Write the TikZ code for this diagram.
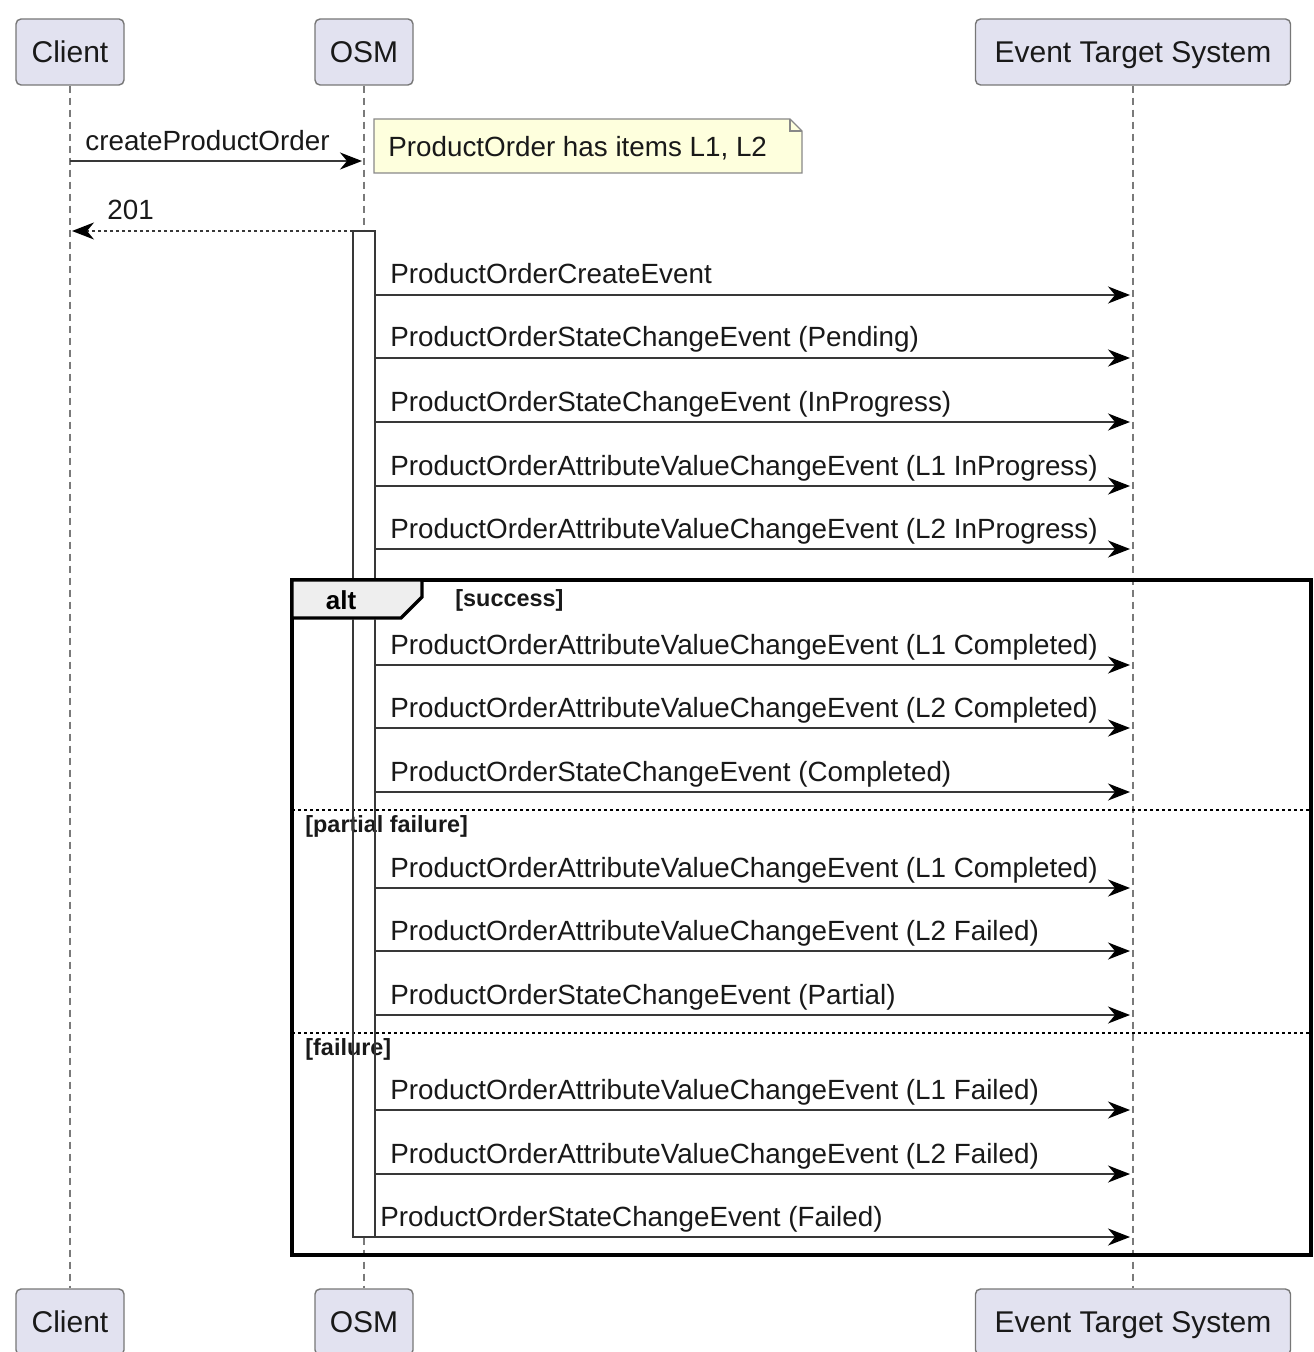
\documentclass[tikz,border=0pt]{standalone}
\usepackage{fontspec}
\setmainfont{Liberation Sans}
\usetikzlibrary{arrows.meta,calc}
\definecolor{partfill}{HTML}{E2E2F0}
\definecolor{partdraw}{HTML}{777777}
\definecolor{notefill}{HTML}{FEFFDD}
\definecolor{notedraw}{HTML}{888888}
\definecolor{lifecol}{HTML}{7A7A7A}
\definecolor{msgcol}{HTML}{383838}
\definecolor{tabfill}{HTML}{EEEEEE}
\begin{document}
\begin{tikzpicture}[x=0.5pt,y=-0.5pt,
  part/.style={draw=partdraw, fill=partfill, line width=0.7pt, rounded corners=2.5pt,
    minimum height=33pt, inner sep=0pt, text height=13.7pt, text depth=3pt,
    font=\fontsize{15}{18}\selectfont, text=black!90},
  lifeline/.style={draw=lifecol, line width=0.6pt, dash pattern=on 3.5pt off 2.5pt},
  tip/.style={-{Stealth[length=11pt,width=8.5pt,inset=3.5pt,fill=black,color=black]}},
  msg/.style={draw=msgcol, line width=0.9pt, tip},
  ret/.style={draw=msgcol, line width=0.9pt, dash pattern=on 1.5pt off 1.5pt, tip},
  lbl/.style={anchor=base west, inner sep=0pt, font=\fontsize{13.9}{16}\selectfont, text=black!90},
  guard/.style={anchor=base west, inner sep=0pt, font=\bfseries\fontsize{11.7}{14}\selectfont, text=black!90},
  sep/.style={draw=black, line width=0.6pt, dash pattern=on 1.5pt off 1.5pt},
  actbar/.style={draw=msgcol, fill=white, line width=0.8pt, minimum width=11pt, inner sep=0pt}
]
\useasboundingbox (0,0) rectangle (1313,1352);

% participants
\node[part, minimum width=54pt] (ct) at (70,52) {Client};
\node[part, minimum width=49pt] (ot) at (364,52) {OSM};
\node[part, minimum width=157.5pt] (et) at (1133,52) {Event Target System};
\node[part, minimum width=54pt] (cb) at (70,1322) {Client};
\node[part, minimum width=49pt] (ob) at (364,1322) {OSM};
\node[part, minimum width=157.5pt] (eb) at (1133,1322) {Event Target System};

% lifelines
\draw[lifeline] (ct) -- (cb);
\draw[lifeline] (ot) -- (ob);
\draw[lifeline] (et) -- (eb);

% activation bar
\node[actbar, minimum height=503pt] (act) at (364,734) {};

% createProductOrder
\coordinate (c1) at (70,161);
\coordinate (o1) at (362,161);
\draw[msg] (c1) -- (o1);
\node[lbl] (lcpo) at (85,151) {createProductOrder};

% note
\draw[draw=notedraw, fill=notefill, line width=0.6pt]
  (374,119) -- (790,119) -- (802,131) -- (802,173) -- (374,173) -- cycle;
\draw[draw=notedraw, line width=0.6pt] (790,119) -- (790,131) -- (802,131);
\node[lbl] (note) at (388,157) {ProductOrder has items L1, L2};

% 201
\coordinate (o2) at (353,231);
\coordinate (c2) at (72,231);
\draw[ret] (o2) -- (c2);
\node[lbl] (l201) at (107,220) {201};

% alt frame
\draw[draw=black, line width=1.6pt] (292,580) rectangle (1311,1255);
\draw[draw=black, fill=tabfill, line width=1.6pt]
  (292,580) -- (422,580) -- (422,597) -- (401,618) -- (292,618) -- cycle;
\node[anchor=base, inner sep=0pt, font=\bfseries\fontsize{13}{15}\selectfont] (altlbl) at (341,609) {alt};
\node[guard] (gs) at (455,606) {[success]};
\draw[sep] (292,810) -- (1311,810);
\draw[sep] (292,1033) -- (1311,1033);
\node[guard] (gp) at (305,832) {[partial failure]};
\node[guard] (gf) at (305,1055) {[failure]};

% activation bar lines below the tab
\draw[draw=msgcol, line width=0.8pt] (353,619) -- (353,1237) -- (375,1237) -- (375,619);

% events
\foreach \y/\t [count=\i] in {
  295/ProductOrderCreateEvent,
  358/ProductOrderStateChangeEvent (Pending),
  422/ProductOrderStateChangeEvent (InProgress),
  486/ProductOrderAttributeValueChangeEvent (L1 InProgress),
  549/ProductOrderAttributeValueChangeEvent (L2 InProgress),
  665/ProductOrderAttributeValueChangeEvent (L1 Completed),
  728/ProductOrderAttributeValueChangeEvent (L2 Completed),
  792/ProductOrderStateChangeEvent (Completed),
  888/ProductOrderAttributeValueChangeEvent (L1 Completed),
  951/ProductOrderAttributeValueChangeEvent (L2 Failed),
  1015/ProductOrderStateChangeEvent (Partial),
  1110/ProductOrderAttributeValueChangeEvent (L1 Failed),
  1174/ProductOrderAttributeValueChangeEvent (L2 Failed)}{
  \coordinate (s\i) at (375,\y);
  \coordinate (e\i) at (1130,\y);
  \draw[msg] (s\i) -- (e\i);
  \node[lbl] (t\i) at (390,\y-11) {\t};
}
\coordinate (s14) at (375,1237);
\coordinate (e14) at (1130,1237);
\draw[msg] (s14) -- (e14);
\node[lbl] (t14) at (380,1226) {ProductOrderStateChangeEvent (Failed)};
\end{tikzpicture}
\end{document}
